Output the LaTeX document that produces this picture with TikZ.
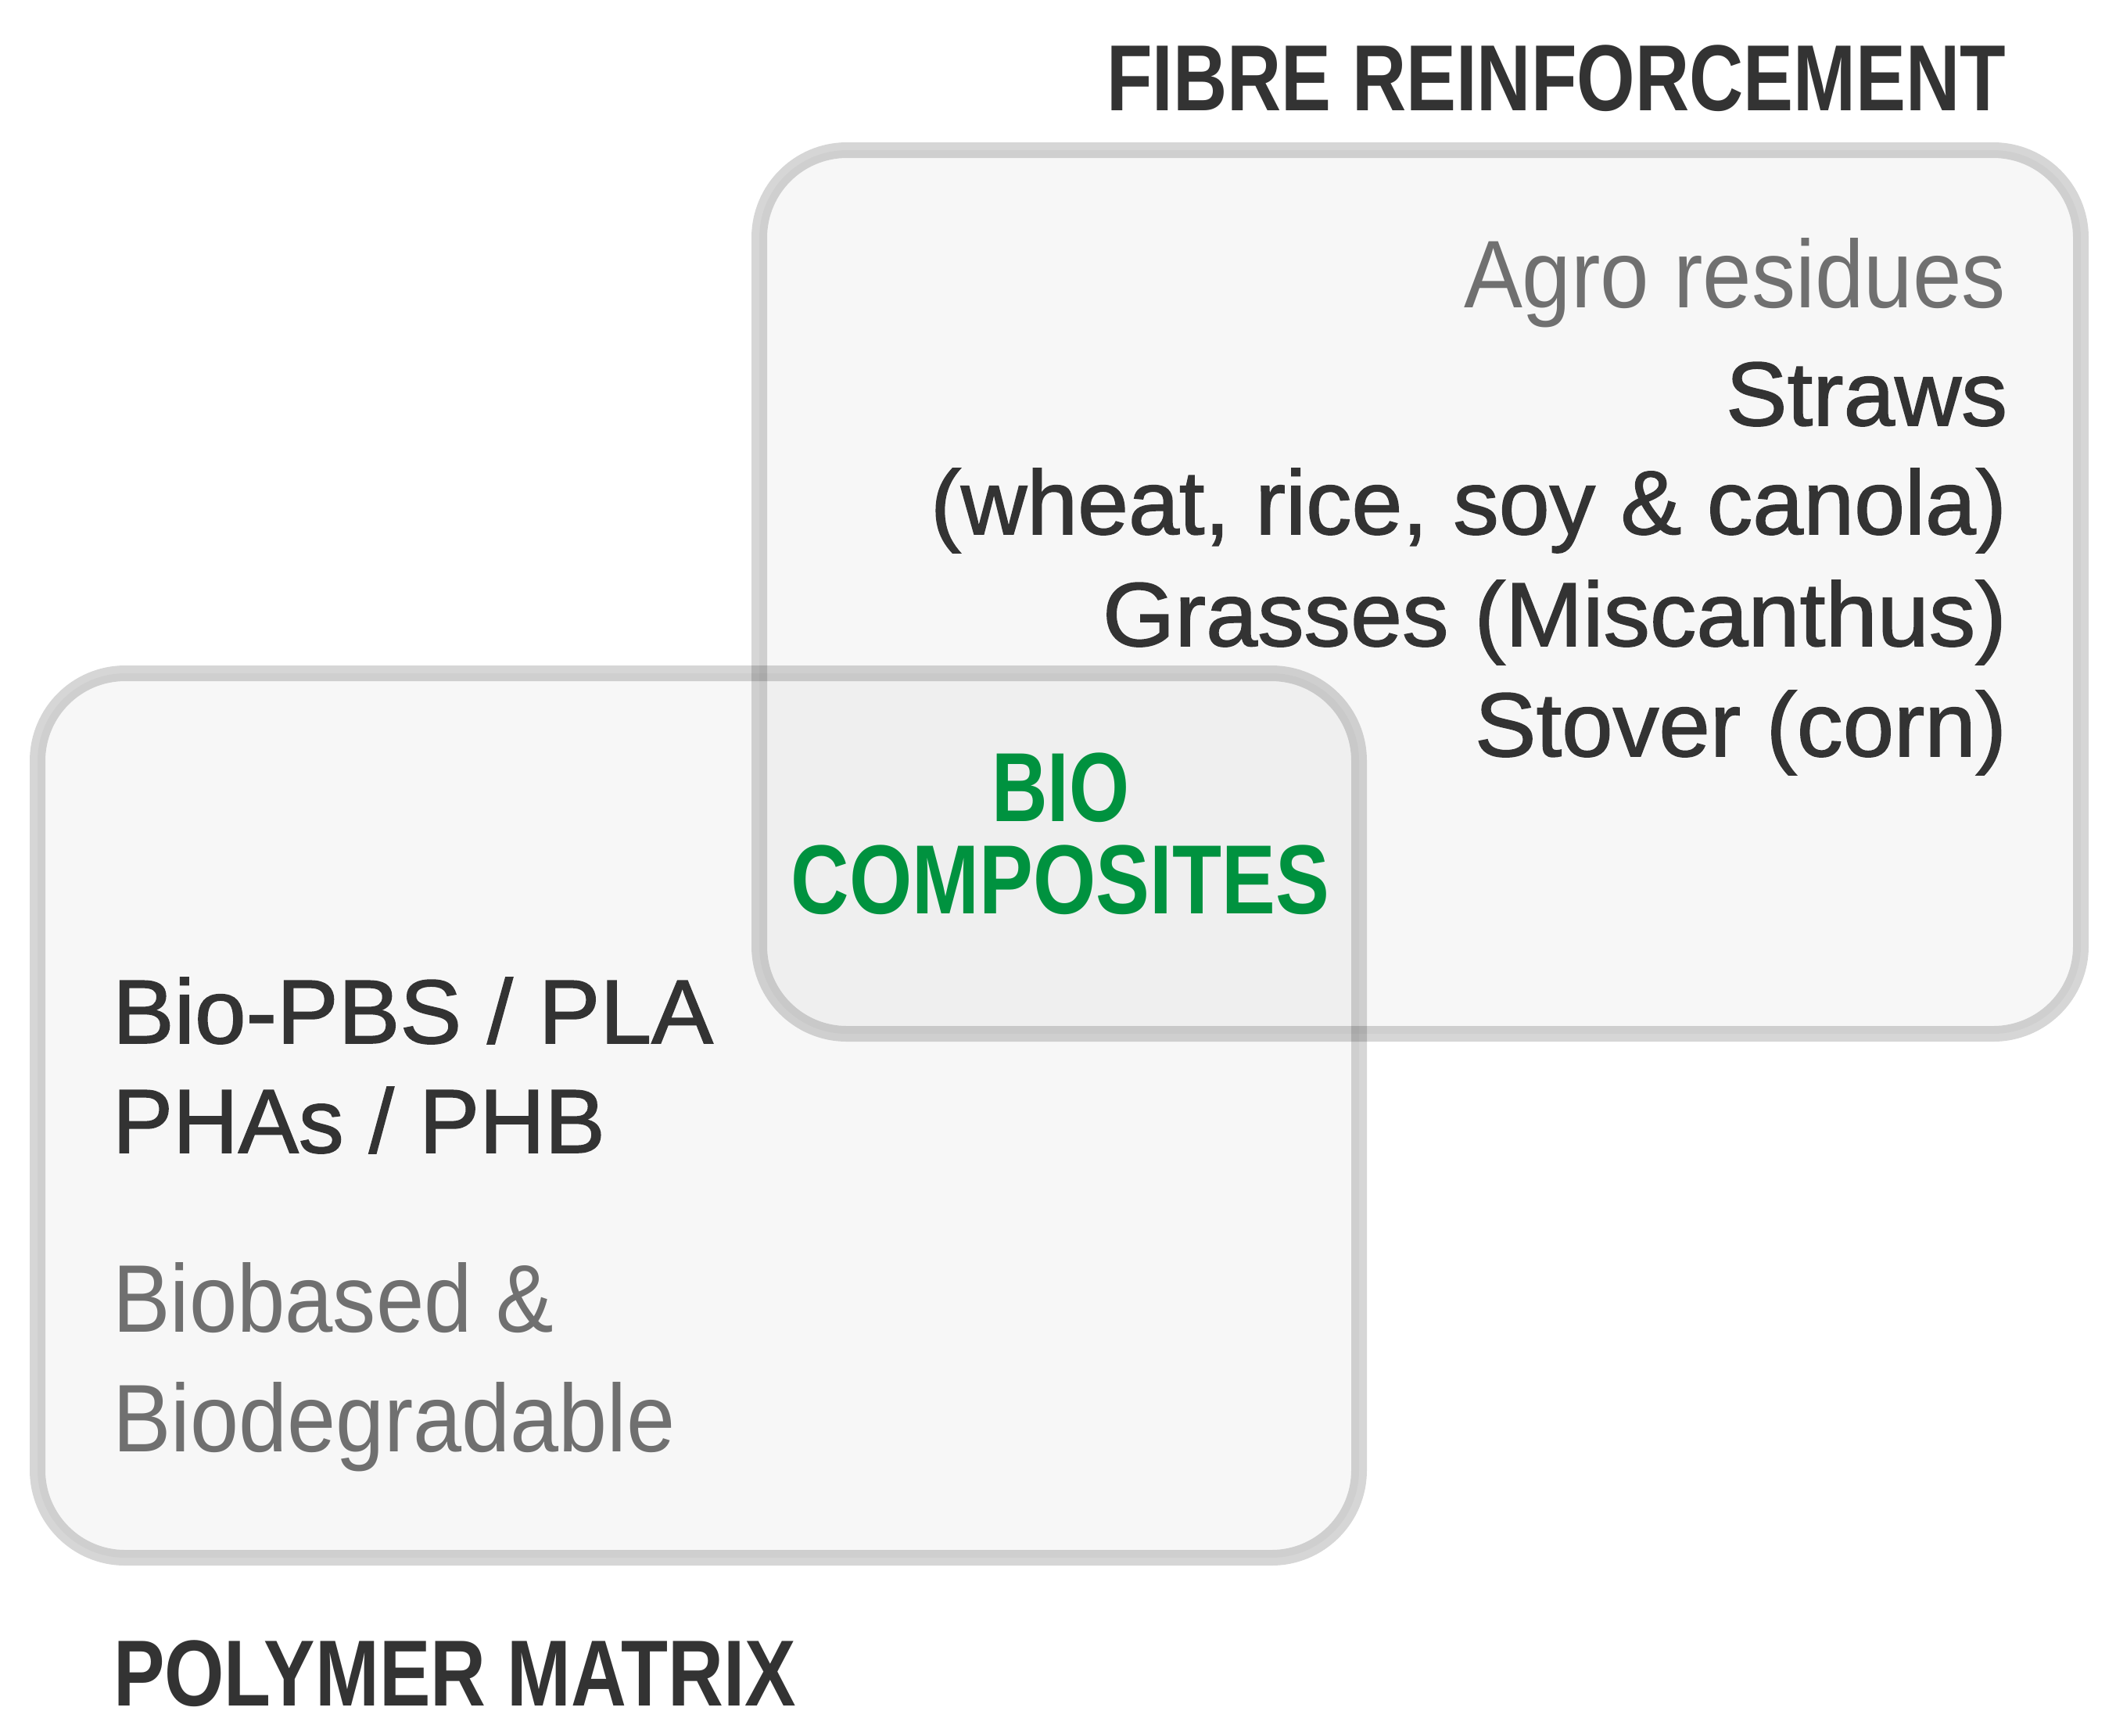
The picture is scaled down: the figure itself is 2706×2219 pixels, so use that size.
\documentclass[tikz,border=0pt]{standalone}
\usepackage{fontspec}
\setmainfont{Liberation Sans}
\newfontfamily\medf[FakeBold=1.3]{Liberation Sans}
\definecolor{dark}{HTML}{333333}
\definecolor{mid}{HTML}{707070}
\definecolor{bgreen}{RGB}{0,146,63}
\newdimen\pxu \pxu=0.25pt
\newcommand\fitw[2]{\resizebox{#1\pxu}{\height}{#2}}
\tikzset{
  panel/.style={draw=black, draw opacity=0.16, fill=black, fill opacity=0.03,
                line width=5pt, rounded corners=28pt},
  txt/.style={inner sep=0pt, outer sep=0pt},
  head/.style={txt, text=dark, font=\fontsize{30}{30}\selectfont\bfseries},
  graytxt/.style={txt, text=mid, font=\fontsize{30.7}{31}\selectfont},
  medtxt/.style={txt, text=dark, font=\fontsize{29}{29}\medf},
  biotxt/.style={txt, text=bgreen, font=\fontsize{31.4}{31}\selectfont\bfseries},
}
\begin{document}
\begin{tikzpicture}[x=0.25pt, y=-0.25pt]
\useasboundingbox (0,0) rectangle (2706,2219);
% panels
\path[panel] (971,192) rectangle (2661,1322);
\path[panel] (48,861) rectangle (1738,1992);
% headings
\node[head, anchor=base east] (fibre) at (2565,141) {\fitw{1150}{FIBRE REINFORCEMENT}};
\node[head, anchor=base west] (polymer) at (145,2181) {\fitw{873}{POLYMER MATRIX}};
% fibre texts
\node[graytxt, anchor=base east] (agro) at (2565,393) {\fitw{693}{Agro residues}};
\node[medtxt, anchor=base east] (straws) at (2567,544) {\fitw{360}{Straws}};
\node[medtxt, anchor=base east] (wheat) at (2566,683) {\fitw{1376}{(wheat, rice, soy \& canola)}};
\node[medtxt, anchor=base east] (grasses) at (2566,826) {\fitw{1156}{Grasses (Miscanthus)}};
\node[medtxt, anchor=base east] (stover) at (2566,967) {\fitw{680}{Stover (corn)}};
% centre
\node[biotxt, anchor=base] (bio) at (1356,1050) {\fitw{176}{BIO}};
\node[biotxt, anchor=base] (comp) at (1356,1168) {\fitw{688}{COMPOSITES}};
% polymer texts
\node[medtxt, anchor=base west] (pbs) at (144,1334) {\fitw{768}{Bio-PBS / PLA}};
\node[medtxt, anchor=base west] (pha) at (144,1474) {\fitw{630}{PHAs / PHB}};
\node[graytxt, anchor=base west] (biobased) at (144,1703) {\fitw{564}{Biobased \&}};
\node[graytxt, anchor=base west] (biodeg) at (144,1856) {\fitw{720}{Biodegradable}};
\end{tikzpicture}
\end{document}
